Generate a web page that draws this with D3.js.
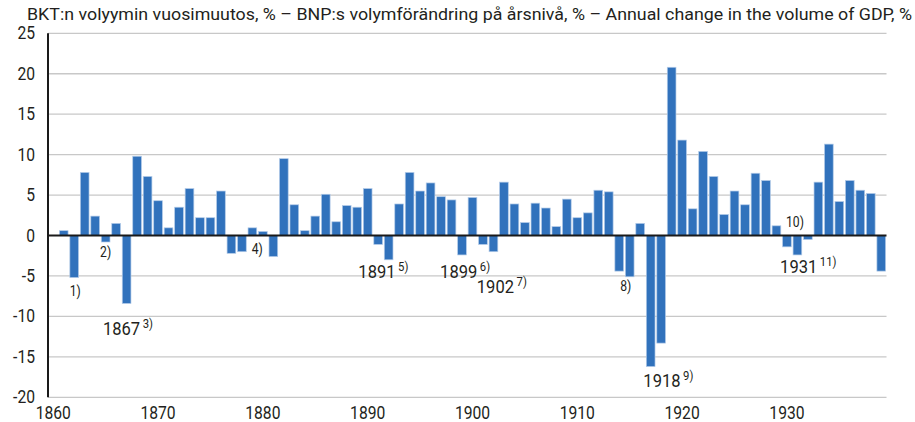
<!DOCTYPE html>
<html>
<head>
<meta charset="utf-8">
<script src="https://cdn.jsdelivr.net/npm/d3@7"></script>
<style>
  body { margin: 0; background: #fff; }
  svg text { font-family: "Roboto", sans-serif; fill: #231f20; }
</style>
</head>
<body>
<svg id="chart" width="915" height="422"></svg>
<script>
// years 1860..1939, 1860 has no value
const years = d3.range(1860, 1940);
const growth = [
  null, 0.6, -5.2, 7.8, 2.4, -0.8, 1.5, -8.4, 9.8, 7.3,
  4.3, 0.95, 3.5, 5.8, 2.2, 2.2, 5.5, -2.2, -2.0, 0.95,
  0.5, -2.6, 9.5, 3.8, 0.6, 2.4, 5.1, 1.7, 3.7, 3.5,
  5.8, -1.1, -3.0, 3.9, 7.8, 5.5, 6.5, 4.8, 4.4, -2.4,
  4.7, -1.1, -2.0, 6.6, 3.9, 1.6, 4.0, 3.4, 1.1, 4.5,
  2.2, 2.8, 5.6, 5.4, -4.4, -5.1, 1.5, -16.2, -13.3, 20.8,
  11.8, 3.3, 10.4, 7.3, 2.6, 5.5, 3.8, 7.7, 6.8, 1.2,
  -1.4, -2.4, -0.5, 6.6, 11.3, 4.2, 6.8, 5.6, 5.2, -4.4
];
const yTicks = [-20, -15, -10, -5, 0, 5, 10, 15, 20, 25];
const xTickYears = [1860, 1870, 1880, 1890, 1900, 1910, 1920, 1930];
const title = "BKT:n volyymin vuosimuutos, % \u2013 BNP:s volymförändring på årsnivå, % \u2013 Annual change in the volume of GDP, %";

// footnotes: label and the year printed with it (if any)
const noteLabels = ["1)", "2)", "3)", "4)", "5)", "6)", "7)", "8)", "9)", "10)", "11)"];
const noteYears  = [null, null, 1867, null, 1891, 1899, 1902, null, 1918, null, 1931];

let chart = d3.select("#chart");
let data = years.map((yr, i) => ({ year: yr, value: growth[i] }));
let squeeze = 0.87;   // font is narrower in the original

let x = d3.scaleBand()
    .domain(years)
    .range([48, 886.5])
    .paddingInner(0.17)
    .paddingOuter(0.085);

let y = d3.scaleLinear()
    .domain([-20, 25])
    .range([397.3, 33.3]);

// grid
chart.append("g")
  .selectAll("line")
  .data(yTicks.filter(d => d !== 0))
  .enter()
  .append("line")
    .attr("x1", 48)
    .attr("x2", 886.5)
    .attr("y1", d => y(d))
    .attr("y2", d => y(d))
    .attr("stroke", "#c8c8c8")
    .attr("stroke-width", 1.3);

// bars
chart.append("g")
  .selectAll("rect")
  .data(data.filter(d => d.value !== null))
  .enter()
  .append("rect")
    .attr("x", d => x(d.year))
    .attr("width", x.bandwidth())
    .attr("y", d => y(Math.max(0, d.value)))
    .attr("height", d => Math.abs(y(d.value) - y(0)))
    .attr("fill", "#3172bc")
    .attr("stroke", "#b3cbe8")
    .attr("stroke-width", 0.7);

// zero line and left axis
chart.append("line")
    .attr("x1", 48).attr("x2", 886.5)
    .attr("y1", y(0)).attr("y2", y(0))
    .attr("stroke", "#1a1a1a")
    .attr("stroke-width", 2);

chart.append("line")
    .attr("x1", 48).attr("x2", 48)
    .attr("y1", y(25)).attr("y2", y(-20))
    .attr("stroke", "#1a1a1a")
    .attr("stroke-width", 2);

// y labels
chart.append("g")
  .selectAll("text")
  .data(yTicks)
  .enter()
  .append("text")
    .attr("transform", d => "translate(35," + (y(d) + 6) + ") scale(" + squeeze + ",1)")
    .attr("text-anchor", "end")
    .style("font-size", "18px")
    .text(d => d);

// x labels
chart.append("g")
  .selectAll("text")
  .data(xTickYears)
  .enter()
  .append("text")
    .attr("transform", d => "translate(" + (x(d) + x.bandwidth() / 2) + ",419) scale(" + squeeze + ",1)")
    .attr("text-anchor", "middle")
    .style("font-size", "18px")
    .text(d => d);

// title
chart.append("text")
    .attr("x", 27)
    .attr("y", 20)
    .attr("textLength", 885)
    .attr("lengthAdjust", "spacingAndGlyphs")
    .style("font-size", "16.5px")
    .text(title);

// footnote placement: anchor year, value, x shift, anchor
let notePlace = [
  [1862, -7.5, 1, "middle"],
  [1865, -2.65, 0, "middle"],
  [1865, -12.3, 1.7, "start"],
  [1879, -2.3, 3.7, "start"],
  [1889, -5.25, 5.5, "start"],
  [1897, -5.25, 3.4, "start"],
  [1901, -7.1, -1.8, "start"],
  [1915, -6.9, -4, "middle"],
  [1916, -18.7, 7.5, "start"],
  [1930, 1.05, 8, "middle"],
  [1929, -4.6, 8, "start"]
];

let notes = chart.append("g");
noteLabels.forEach((lab, i) => {
  let p = notePlace[i];
  let cx = p[3] === "middle" ? x(p[0]) + x.bandwidth() / 2 : x(p[0]);
  let t = notes.append("text")
      .attr("transform", "translate(" + (cx + p[2]) + "," + y(p[1]) + ") scale(" + squeeze + ",1)")
      .attr("text-anchor", p[3]);
  if (noteYears[i] !== null) {
    t.append("tspan").style("font-size", "19px").text(noteYears[i]);
    t.append("tspan")
        .attr("dx", 3)
        .attr("dy", -7)
        .style("font-size", "13px")
        .text(lab);
  } else {
    t.style("font-size", "14px").text(lab);
  }
});
</script>
</body>
</html>
